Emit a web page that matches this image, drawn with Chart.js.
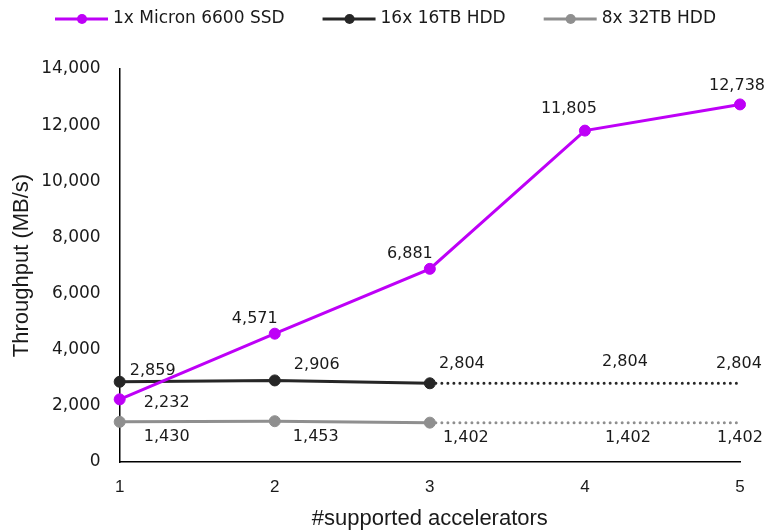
<!DOCTYPE html>
<html>
<head>
<meta charset="utf-8">
<script src="https://cdn.jsdelivr.net/npm/chart.js@4/dist/chart.umd.min.js"></script>
<style>
  html, body { margin: 0; padding: 0; background: #ffffff; }
  #wrap { width: 781px; height: 531px; position: relative; }
</style>
</head>
<body>
<div id="wrap"><canvas id="chart"></canvas></div>
<script>
// Number of supported accelerators
const accelerators = ['1', '2', '3', '4', '5'];

// Throughput in MB/s
const ssdThroughput = [2232, 4571, 6881, 11805, 12738];
const hdd16Measured = [2859, 2906, 2804, null, null];
const hdd16Flat = [null, null, 2804, 2804, 2804];
const hdd32Measured = [1430, 1453, 1402, null, null];
const hdd32Flat = [null, null, 1402, 1402, 1402];

const seriesNames = ['1x Micron 6600 SSD', '16x 16TB HDD', '8x 32TB HDD'];
const yTicks = [0, 2000, 4000, 6000, 8000, 10000, 12000, 14000];

const NUM_FONT = '"DejaVu Sans", "Noto Sans", sans-serif';
const TITLE_FONT = '"Liberation Sans", Arial, sans-serif';
const TEXT = '#1a1a1a';
const PURPLE = '#BE00F7';
const DARK = '#262626';
const GREY = '#8f8f8f';

// Label offsets (text centre relative to the point), per dataset
const labelOffsets = {
  0: [[47, 3], [-20, -15], [-20, -15], [-16, -22], [-3, -19]],
  1: [[33, -11], [42, -16], [32, -19], null, null],
  2: [null, null, null, [40, -21], [-1, -19]],
  3: [[47, 15], [41, 16], [36, 15], null, null],
  4: [null, null, null, [43, 15], [0, 15]]
};

const valueLabels = {
  id: 'valueLabels',
  afterDatasetsDraw(chart) {
    const ctx = chart.ctx;
    ctx.save();
    ctx.font = '16px ' + NUM_FONT;
    ctx.fillStyle = TEXT;
    ctx.textAlign = 'center';
    ctx.textBaseline = 'middle';
    chart.data.datasets.forEach((ds, di) => {
      const offs = labelOffsets[di];
      if (!offs) return;
      const meta = chart.getDatasetMeta(di);
      meta.data.forEach((pt, i) => {
        const v = ds.data[i];
        if (v === null || !offs[i]) return;
        ctx.fillText(v.toLocaleString('en-US'), pt.x + offs[i][0], pt.y + offs[i][1]);
      });
    });
    ctx.restore();
  }
};

const lineLegend = {
  id: 'lineLegend',
  afterDraw(chart) {
    const ctx = chart.ctx;
    const colors = [PURPLE, DARK, GREY];
    ctx.save();
    ctx.font = '17px ' + NUM_FONT;
    ctx.textBaseline = 'middle';
    let x = 55;
    const y = 19;
    seriesNames.forEach((name, i) => {
      ctx.strokeStyle = colors[i];
      ctx.lineWidth = 3;
      ctx.beginPath();
      ctx.moveTo(x, y);
      ctx.lineTo(x + 53, y);
      ctx.stroke();
      ctx.fillStyle = colors[i];
      ctx.beginPath();
      ctx.arc(x + 27, y, 5, 0, Math.PI * 2);
      ctx.fill();
      ctx.fillStyle = TEXT;
      ctx.fillText(name, x + 58, y);
      x += 58 + ctx.measureText(name).width + 38;
    });
    ctx.restore();
  }
};

const solid = (label, data, color) => ({
  label, data, borderColor: color, backgroundColor: color,
  pointBackgroundColor: color, pointBorderColor: color,
  borderWidth: 3, pointRadius: 5.5, pointBorderWidth: 1, pointHoverRadius: 5.5,
  tension: 0, clip: false, spanGaps: false
});
const dotted = (label, data, color) => ({
  label, data, borderColor: color, backgroundColor: color,
  borderWidth: 3, borderDash: [0.01, 6], borderCapStyle: 'round',
  pointRadius: 0, pointHoverRadius: 0, tension: 0, clip: false
});

new Chart(document.getElementById('chart'), {
  type: 'line',
  data: {
    labels: accelerators,
    datasets: [
      solid(seriesNames[0], ssdThroughput, PURPLE),
      solid(seriesNames[1], hdd16Measured, DARK),
      dotted(seriesNames[1] + ' (flat)', hdd16Flat, DARK),
      solid(seriesNames[2], hdd32Measured, GREY),
      dotted(seriesNames[2] + ' (flat)', hdd32Flat, GREY)
    ]
  },
  options: {
    responsive: true,
    maintainAspectRatio: false,
    animation: false,
    events: [],
    layout: { padding: { top: 69, right: 41, left: 4, bottom: 0 } },
    plugins: {
      legend: { display: false },
      tooltip: { enabled: false }
    },
    scales: {
      x: {
        offset: false,
        grid: { display: false, drawTicks: false },
        border: { display: true, color: '#000', width: 1.5 },
        ticks: { color: TEXT, font: { family: TITLE_FONT, size: 17 }, padding: 15, maxRotation: 0 },
        title: { display: true, text: '#supported accelerators', color: TEXT,
                 font: { family: TITLE_FONT, size: 22 }, padding: { top: -6.6, bottom: -1.2 } }
      },
      y: {
        min: 0, max: 14000,
        afterBuildTicks(scale) { scale.ticks = yTicks.map(v => ({ value: v })); },
        grid: { display: false, drawTicks: false },
        border: { display: true, color: '#000', width: 1.5 },
        ticks: { color: TEXT, font: { family: NUM_FONT, size: 17 }, padding: 19,
                 callback: v => v.toLocaleString('en-US') },
        title: { display: true, text: 'Throughput (MB/s)', color: TEXT,
                 font: { family: TITLE_FONT, size: 22 }, padding: { top: 4.8, bottom: -13 } }
      }
    }
  },
  plugins: [valueLabels, lineLegend]
});
</script>
</body>
</html>
